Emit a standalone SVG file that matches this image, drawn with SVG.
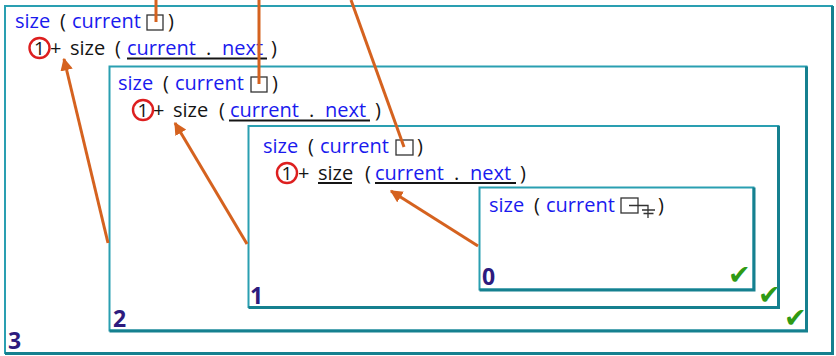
<svg xmlns="http://www.w3.org/2000/svg" width="836" height="356" viewBox="0 0 836 356">
  <defs>
    <style>
      text { font-family: "Open Sans", "Noto Sans", "DejaVu Sans", sans-serif; font-size: 20px; }
      .b { fill: #1a1aee; }
      .k { fill: #151515; }
      .one { font-size: 19px; }
      .lbl { font-size: 23px; font-weight: bold; fill: #2d1b7e; }
      .chk { font-family: "DejaVu Sans", sans-serif; font-size: 27px; font-weight: bold; fill: #2f9a14; }
      .frame { fill: #ffffff; stroke: #2a9fb1; stroke-width: 2; }
      .shade { fill: none; stroke: #15808f; stroke-width: 3; }
      .ul { stroke: #151515; stroke-width: 2; }
      .cell { fill: none; stroke: #333333; stroke-width: 1.3; }
      .ring { fill: none; stroke: #dd1f1f; stroke-width: 2.4; }
      .ptr { fill: none; stroke: #d5621f; stroke-width: 3; }
      .arr { fill: none; stroke: #d5621f; stroke-width: 3; marker-end: url(#head); }
    </style>
    <marker id="head" viewBox="0 0 10 10" refX="9" refY="5" markerWidth="4.2" markerHeight="4.2" orient="auto" markerUnits="strokeWidth">
      <path d="M0,0 L10,5 L0,10 z" fill="#d5621f"/>
    </marker>
  </defs>

  <!-- call frame: size(list of 3) -->
  <g id="frame3">
    <rect class="frame" x="5" y="6" width="827" height="347"/>
    <polyline class="shade" points="832.5,6 832.5,353.5 5,353.5"/>
    <text class="b" x="15" y="28">size</text>
    <text class="k" x="60" y="28">(</text>
    <text class="b" x="72" y="28">current</text>
    <rect class="cell" x="147" y="15" width="16" height="15"/>
    <text class="k" x="168" y="28">)</text>
    <circle class="ring" cx="39.5" cy="48" r="10"/>
    <text class="k one" x="39.5" y="54.8" text-anchor="middle">1</text>
    <text class="k" x="50" y="55">+</text>
    <text class="k" x="70" y="55">size</text>
    <text class="k" x="115" y="55">(</text>
    <text class="b" x="127" y="55">current</text>
    <text class="k" x="206" y="55">.</text>
    <text class="b" x="222" y="55">next</text>
    <text class="k" x="271" y="55">)</text>
    <line class="ul" x1="127" y1="58.5" x2="267" y2="58.5"/>
    <text class="lbl" x="8" y="349">3</text>
  </g>

  <!-- call frame: size(list of 2) -->
  <g id="frame2">
    <rect class="frame" x="109.5" y="66.5" width="697" height="264"/>
    <polyline class="shade" points="806.5,66.5 806.5,331 109.5,331"/>
    <text class="b" x="118" y="90">size</text>
    <text class="k" x="163" y="90">(</text>
    <text class="b" x="175" y="90">current</text>
    <rect class="cell" x="251" y="77" width="16" height="15"/>
    <text class="k" x="272" y="90">)</text>
    <circle class="ring" cx="143" cy="110" r="10"/>
    <text class="k one" x="143" y="116.8" text-anchor="middle">1</text>
    <text class="k" x="153" y="117">+</text>
    <text class="k" x="173" y="117">size</text>
    <text class="k" x="219" y="117">(</text>
    <text class="b" x="230" y="117">current</text>
    <text class="k" x="309" y="117">.</text>
    <text class="b" x="325" y="117">next</text>
    <text class="k" x="375" y="117">)</text>
    <line class="ul" x1="229" y1="120.5" x2="370" y2="120.5"/>
    <text class="lbl" x="113" y="327">2</text>
    <text class="chk" x="784" y="327">✔</text>
  </g>

  <!-- call frame: size(list of 1) -->
  <g id="frame1">
    <rect class="frame" x="248.5" y="126" width="530" height="181"/>
    <polyline class="shade" points="778.5,126 778.5,307.5 248.5,307.5"/>
    <text class="b" x="263" y="153">size</text>
    <text class="k" x="308" y="153">(</text>
    <text class="b" x="320" y="153">current</text>
    <rect class="cell" x="396" y="140" width="17" height="15"/>
    <text class="k" x="417" y="153">)</text>
    <circle class="ring" cx="287" cy="173" r="10"/>
    <text class="k one" x="287" y="179.8" text-anchor="middle">1</text>
    <text class="k" x="298" y="180">+</text>
    <text class="k" x="318" y="180">size</text>
    <line class="ul" x1="318" y1="183" x2="352" y2="183"/>
    <text class="k" x="365" y="180">(</text>
    <text class="b" x="375" y="180">current</text>
    <text class="k" x="454" y="180">.</text>
    <text class="b" x="470" y="180">next</text>
    <text class="k" x="520" y="180">)</text>
    <line class="ul" x1="375" y1="183" x2="516" y2="183"/>
    <text class="lbl" x="250" y="304">1</text>
    <text class="chk" x="758" y="304">✔</text>
  </g>

  <!-- call frame: size(empty list) -->
  <g id="frame0">
    <rect class="frame" x="479.5" y="187.5" width="274" height="102"/>
    <polyline class="shade" points="754,187.5 754,290 479.5,290"/>
    <text class="b" x="489" y="212">size</text>
    <text class="k" x="534" y="212">(</text>
    <text class="b" x="546" y="212">current</text>
    <rect class="cell" x="621" y="198" width="17" height="15"/>
    <path class="cell" d="M629,205.5 H648 V218 M642,210 H655 M643.5,213.5 H653.5"/>
    <text class="k" x="658" y="212">)</text>
    <text class="lbl" x="482" y="285">0</text>
    <text class="chk" x="728" y="284">✔</text>
  </g>

  <!-- pointers and return arrows -->
  <g id="connectors">
    <line class="ptr" x1="156" y1="0" x2="156" y2="22"/>
    <line class="ptr" x1="259" y1="0" x2="259" y2="84"/>
    <line class="ptr" x1="351" y1="0" x2="404" y2="147"/>
    <line class="arr" x1="108" y1="243" x2="64" y2="59"/>
    <line class="arr" x1="247" y1="244" x2="175" y2="123"/>
    <line class="arr" x1="478" y1="246" x2="391" y2="191"/>
  </g>
</svg>
